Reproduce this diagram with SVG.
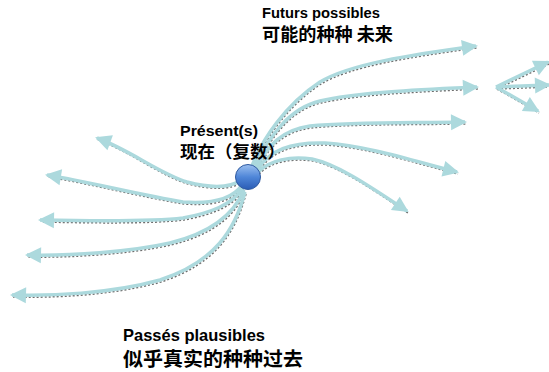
<svg xmlns="http://www.w3.org/2000/svg" xmlns:xlink="http://www.w3.org/1999/xlink" width="549" height="372" viewBox="0 0 549 372">
<style>
  .lbl { font-family: "Liberation Sans", "Noto Sans CJK SC", sans-serif; font-weight: bold; fill: #000; }
  .cjk { font-family: "Noto Sans CJK SC", "Liberation Sans", sans-serif; font-weight: bold; fill: #000; }
  .shadow { fill: none; stroke: #6e6e6e; stroke-width: 1.5; stroke-dasharray: 2 2; }
  .arrow { fill: none; stroke: #acd9dd; stroke-width: 3.5; stroke-linecap: butt; marker-end: url(#head); }
</style>
<defs>
  <marker id="head" markerUnits="userSpaceOnUse" markerWidth="17" markerHeight="16" refX="14" refY="8" orient="auto" overflow="visible">
    <path d="M0,0 L16,8 L0,16 Z" fill="#acd9dd"/>
  </marker>
  <linearGradient id="ball" x1="0" y1="0" x2="0" y2="1">
    <stop offset="0" stop-color="#9cc0f0"/>
    <stop offset="0.5" stop-color="#4f86d8"/>
    <stop offset="1" stop-color="#2a5cb5"/>
  </linearGradient>
  <path id="r1" d="M252,166 C262,140 285,105 320,82 C350,64 410,55 476,46"/>
  <path id="r2" d="M254,167 C270,135 290,108 320,101 C360,92 420,90 477,87"/>
  <path id="r3" d="M256,168 C268,145 282,130 310,126 C350,122 410,123 465,122"/>
  <path id="r4" d="M257,170 C270,150 290,142 325,143 C370,146 420,163 457,172"/>
  <path id="r5" d="M258,172 C270,160 290,156 312,159 C340,165 375,190 407,211"/>
  <path id="l1" d="M242,180 C230,188 210,188 187,182 C160,174 130,150 97,138"/>
  <path id="l2" d="M242,185 C232,200 210,204 183,202 C140,195 90,182 47,175"/>
  <path id="l3" d="M243,188 C232,205 210,213 183,218 C150,222 90,221 40,220"/>
  <path id="l4" d="M244,190 C235,212 215,232 170,243 C130,252 70,256 27,255"/>
  <path id="l5" d="M245,192 C235,230 215,262 160,280 C110,294 50,296 12,295"/>
  <path id="c1" d="M496,87 L548,62"/>
  <path id="c2" d="M496,87 L549,85"/>
  <path id="c3" d="M496,87 L538,111"/>
</defs>

<g id="connectors">
  <g id="shadows" transform="translate(1,2)">
    <use xlink:href="#r1" class="shadow"/>
    <use xlink:href="#r2" class="shadow"/>
    <use xlink:href="#r3" class="shadow"/>
    <use xlink:href="#r4" class="shadow"/>
    <use xlink:href="#r5" class="shadow"/>
    <use xlink:href="#l1" class="shadow"/>
    <use xlink:href="#l2" class="shadow"/>
    <use xlink:href="#l3" class="shadow"/>
    <use xlink:href="#l4" class="shadow"/>
    <use xlink:href="#l5" class="shadow"/>
    <use xlink:href="#c1" class="shadow"/>
    <use xlink:href="#c2" class="shadow"/>
    <use xlink:href="#c3" class="shadow"/>
  </g>
  <use xlink:href="#r1" class="arrow"/>
  <use xlink:href="#r2" class="arrow"/>
  <use xlink:href="#r3" class="arrow"/>
  <use xlink:href="#r4" class="arrow"/>
  <use xlink:href="#r5" class="arrow"/>
  <use xlink:href="#l1" class="arrow"/>
  <use xlink:href="#l2" class="arrow"/>
  <use xlink:href="#l3" class="arrow"/>
  <use xlink:href="#l4" class="arrow"/>
  <use xlink:href="#l5" class="arrow"/>
  <use xlink:href="#c1" class="arrow"/>
  <use xlink:href="#c2" class="arrow"/>
  <use xlink:href="#c3" class="arrow"/>
</g>

<g id="present">
  <circle cx="248" cy="177" r="12.5" fill="url(#ball)" stroke="#2f5aa0" stroke-width="1"/>
  <text class="lbl" x="180" y="136" font-size="15.5" textLength="78" lengthAdjust="spacingAndGlyphs">Présent(s)</text>
  <text class="cjk" x="180" y="158" font-size="17" textLength="105" lengthAdjust="spacingAndGlyphs">现在（复数）</text>
</g>

<g id="futurs">
  <text class="lbl" x="262" y="18" font-size="14.5" textLength="118" lengthAdjust="spacingAndGlyphs">Futurs possibles</text>
  <text class="cjk" x="262" y="41" font-size="18" textLength="131" lengthAdjust="spacingAndGlyphs">可能的种种 未来</text>
</g>

<g id="passes">
  <text class="lbl" x="123" y="341" font-size="16.5" textLength="142" lengthAdjust="spacingAndGlyphs">Passés plausibles</text>
  <text class="cjk" x="123" y="366" font-size="19.5" textLength="180" lengthAdjust="spacingAndGlyphs">似乎真实的种种过去</text>
</g>
</svg>
